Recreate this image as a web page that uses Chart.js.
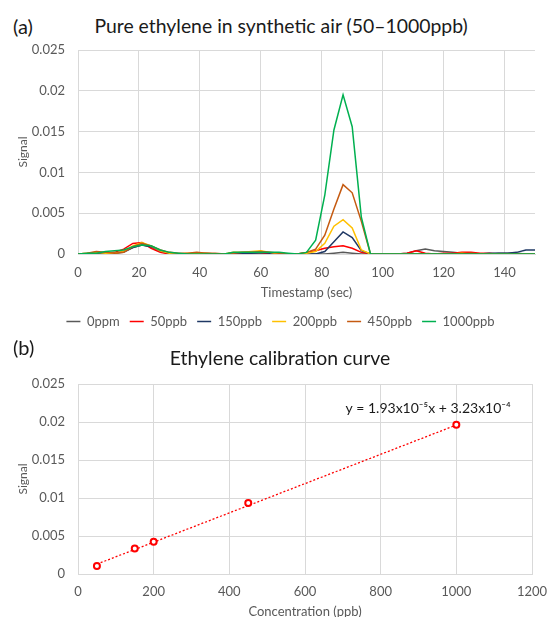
<!DOCTYPE html>
<html>
<head>
  <title>Ethylene signal</title>
  <script src="https://cdn.jsdelivr.net/npm/chart.js"></script>
  <style>
    body { margin: 0; background: #fff; font-family: Lato, sans-serif; }
    #wrap { position: relative; width: 547px; height: 617px; overflow: hidden; }
    .lbl { position: absolute; color: #1a1a1a; white-space: nowrap; font-size: 19.4px; line-height: 20px; }
    canvas { position: absolute; left: 0; }
  </style>
</head>
<body>
<div id="wrap">
  <div class="lbl" style="left:13px;top:16px;font-size:20px">(a)</div>
  <div class="lbl" style="left:0;width:562px;text-align:center;top:16px">Pure ethylene in synthetic air (50–1000ppb)</div>
  <canvas id="chartA" width="547" height="340" style="top:0"></canvas>

  <div class="lbl" style="left:13px;top:337px;font-size:20px">(b)</div>
  <div class="lbl" style="left:0;width:560px;text-align:center;top:348px">Ethylene calibration curve</div>
  <canvas id="chartB" width="547" height="285" style="top:340px"></canvas>
</div>

<script>
  // (a) signal vs time, one reading every 3 s
  const timeSec = [0, 3, 6, 9, 12, 15, 18, 21, 24, 27, 30, 33, 36, 39, 42, 45, 48, 51, 54, 57,
    60, 63, 66, 69, 72, 75, 78, 81, 84, 87, 90, 93, 96, 99, 102, 105, 108, 111, 114, 117,
    120, 123, 126, 129, 132, 135, 138, 141, 144, 147, 150];

  const sig0ppm = [0, 0, 0.0001, 0, 0.0001, 0.0002, 0.0008, 0.0011, 0.0009, 0.0004,
    0.0001, 0, 0, 0, 0, 0, 0, 0.0001, 0.0001, 0,
    0.0001, 0, 0, 0, 0, 0, 0, 0, 0.0001, 0.0002,
    0.0001, 0, 0, 0, 0, 0, 0.0001, 0.0004, 0.0006, 0.0004,
    0.0003, 0.0002, 0.0001, 0, 0, 0, 0.0001, 0.0001, 0.0001, 0, 0];
  const sig50 = [0, 0, 0.0002, 0.0001, 0.0002, 0.0006, 0.0013, 0.0014, 0.0007, 0.0002,
    0, 0, 0, 0.0001, 0, 0, 0, 0.0001, 0.0001, 0.0002,
    0.0002, 0, 0, 0, 0, 0.0002, 0.0004, 0.0007, 0.0009, 0.001,
    0.0007, 0.0002, 0, 0, 0, 0, 0.0001, 0.0004, 0.0001, 0,
    0.0001, 0.0001, 0.0002, 0.0002, 0.0001, 0.0001, 0, 0, 0, 0, 0];
  const sig150 = [0, 0, 0.0001, 0.0001, 0.0001, 0.0003, 0.0008, 0.0011, 0.0009, 0.0004,
    0.0001, 0, 0, 0, 0.0001, 0, 0, 0.0001, 0.0001, 0.0001,
    0.0002, 0.0001, 0, 0, 0, 0, 0, 0.0003, 0.0015, 0.0027,
    0.002, 0.0004, 0, 0, 0, 0, 0, 0, 0, 0,
    0, 0, 0, 0, 0, 0.0001, 0.0001, 0.0001, 0.0002, 0.0005, 0.0005];
  const sig200 = [0, 0.0001, 0.0002, 0.0001, 0.0001, 0.0003, 0.001, 0.0014, 0.001, 0.0004,
    0.0001, 0, 0.0001, 0.0001, 0.0001, 0, 0, 0.0002, 0.0002, 0.0003,
    0.0004, 0.0002, 0, 0, 0, 0.0001, 0.0003, 0.0013, 0.0034, 0.0042,
    0.0032, 0.0005, 0, 0, 0, 0, 0, 0, 0, 0,
    0, 0, 0.0001, 0, 0, 0, 0, 0, 0, 0, 0];
  const sig450 = [0, 0.0001, 0.0003, 0.0002, 0.0001, 0.0002, 0.0009, 0.0013, 0.001, 0.0005,
    0.0002, 0.0001, 0.0001, 0.0002, 0.0001, 0.0001, 0, 0.0001, 0.0002, 0.0002,
    0.0003, 0.0002, 0.0001, 0, 0, 0.0002, 0.0006, 0.0023, 0.0055, 0.0085,
    0.0075, 0.004, 0, 0, 0, 0, 0, 0, 0, 0,
    0, 0, 0, 0.0001, 0, 0, 0, 0, 0, 0, 0];
  const sig1000 = [0, 0.0001, 0.0001, 0.0003, 0.0004, 0.0005, 0.0009, 0.0011, 0.001, 0.0005,
    0.0002, 0.0001, 0, 0, 0, 0, 0, 0.0002, 0.0002, 0.0002,
    0.0002, 0.0002, 0.0002, 0.0001, 0, 0.0002, 0.0017, 0.0072, 0.0152, 0.0195,
    0.0156, 0.0045, 0, 0, 0, 0, 0, 0, 0, 0,
    0, 0, 0, 0, 0, 0, 0, 0, 0, 0, 0];

  const seriesNames = ['0ppm', '50ppb', '150ppb', '200ppb', '450ppb', '1000ppb'];
  const seriesColors = ['#595959', '#ff0000', '#1f3864', '#ffc000', '#c55a11', '#00b050'];
  const seriesValues = [sig0ppm, sig50, sig150, sig200, sig450, sig1000];

  // (b) calibration points and the linear fit
  const concPpb = [50, 150, 200, 450, 1000];
  const peakSignal = [0.00104, 0.00335, 0.00423, 0.00933, 0.01965];
  const fitX = [50, 1000];
  const fitY = [0.0013, 0.0196];
  const fitLabel = 'y = 1.93x10\u207B\u2075x + 3.23x10\u207B\u2074';

  const tickColor = '#595959';
  const gridColor = '#d9d9d9';
  Chart.defaults.font.family = 'Lato, sans-serif';
  Chart.defaults.animation = false;

  const fmt = v => String(+Number(v).toFixed(3));

  // legend sits a bit right of the canvas centre in the original
  const shiftLegend = {
    id: 'shiftLegend',
    afterLayout(chart) { chart.legend.left += 26; }
  };

  new Chart(document.getElementById('chartA'), {
    type: 'line',
    data: {
      datasets: seriesNames.map((name, k) => ({
        label: name,
        data: timeSec.map((t, i) => ({ x: t, y: seriesValues[k][i] })),
        borderColor: seriesColors[k],
        backgroundColor: seriesColors[k],
        borderWidth: 1.5,
        pointRadius: 0,
        tension: 0,
        order: seriesNames.length - k
      }))
    },
    options: {
      responsive: false,
      layout: { padding: { top: 50, right: 12, bottom: 2, left: 0 } },
      plugins: {
        legend: {
          position: 'bottom',
          labels: {
            usePointStyle: true, pointStyle: 'line', pointStyleWidth: 14,
            color: tickColor, font: { size: 13 }, padding: 10,
            sort: (a, b) => a.datasetIndex - b.datasetIndex
          }
        },
        tooltip: { enabled: false }
      },
      scales: {
        x: {
          type: 'linear', min: 0, max: 150,
          grid: { color: gridColor, drawTicks: false },
          border: { color: gridColor },
          ticks: { stepSize: 20, includeBounds: false, padding: 11, color: tickColor, font: { size: 13 }, maxRotation: 0 },
          title: { display: true, text: 'Timestamp (sec)', color: tickColor, font: { size: 13 }, padding: { top: 0, bottom: 4 } },
          afterFit: s => { s.height = 51; }
        },
        y: {
          min: 0, max: 0.025,
          grid: { color: gridColor, drawTicks: false },
          border: { display: false },
          ticks: { stepSize: 0.005, padding: 13, color: tickColor, font: { size: 13 }, callback: fmt },
          title: { display: true, text: 'Signal', color: tickColor, font: { size: 12 }, padding: { top: 16, bottom: 0 } },
          afterFit: s => { s.width = 78; }
        }
      }
    },
    plugins: [shiftLegend]
  });

  const fitText = {
    id: 'fitText',
    afterDatasetsDraw(chart) {
      const { ctx, scales } = chart;
      ctx.save();
      ctx.font = '14px Lato, sans-serif';
      ctx.fillStyle = '#1a1a1a';
      ctx.textBaseline = 'middle';
      ctx.fillText(fitLabel, scales.x.getPixelForValue(707), scales.y.getPixelForValue(0.0218));
      ctx.restore();
    }
  };

  new Chart(document.getElementById('chartB'), {
    type: 'scatter',
    data: {
      datasets: [
        {
          label: 'Calibration',
          data: concPpb.map((c, i) => ({ x: c, y: peakSignal[i] })),
          borderColor: '#ff0000',
          backgroundColor: '#ffffff',
          borderWidth: 2,
          pointRadius: 3,
          order: 1
        },
        {
          type: 'line',
          label: 'Linear fit',
          data: fitX.map((c, i) => ({ x: c, y: fitY[i] })),
          borderColor: '#ff0000',
          borderWidth: 1.3,
          borderDash: [2, 2],
          pointRadius: 0,
          order: 2
        }
      ]
    },
    options: {
      responsive: false,
      layout: { padding: { top: 44, right: 15, bottom: 5, left: 0 } },
      plugins: { legend: { display: false }, tooltip: { enabled: false } },
      scales: {
        x: {
          type: 'linear', min: 0, max: 1200,
          grid: { color: gridColor, drawTicks: false },
          border: { color: gridColor },
          ticks: { stepSize: 200, padding: 10, color: tickColor, font: { size: 13 }, maxRotation: 0, callback: v => String(v) },
          title: { display: true, text: 'Concentration (ppb)', color: tickColor, font: { size: 13 }, padding: { top: 0, bottom: 0 } },
          afterFit: s => { s.height = 46; s.paddingLeft = 0; s.paddingRight = 0; }
        },
        y: {
          min: 0, max: 0.025,
          grid: { color: gridColor, drawTicks: false },
          border: { display: false },
          ticks: { stepSize: 0.005, padding: 13, color: tickColor, font: { size: 13 }, callback: fmt },
          title: { display: true, text: 'Signal', color: tickColor, font: { size: 12 }, padding: { top: 16, bottom: 0 } },
          afterFit: s => { s.width = 78; }
        }
      }
    },
    plugins: [fitText]
  });
</script>
</body>
</html>
